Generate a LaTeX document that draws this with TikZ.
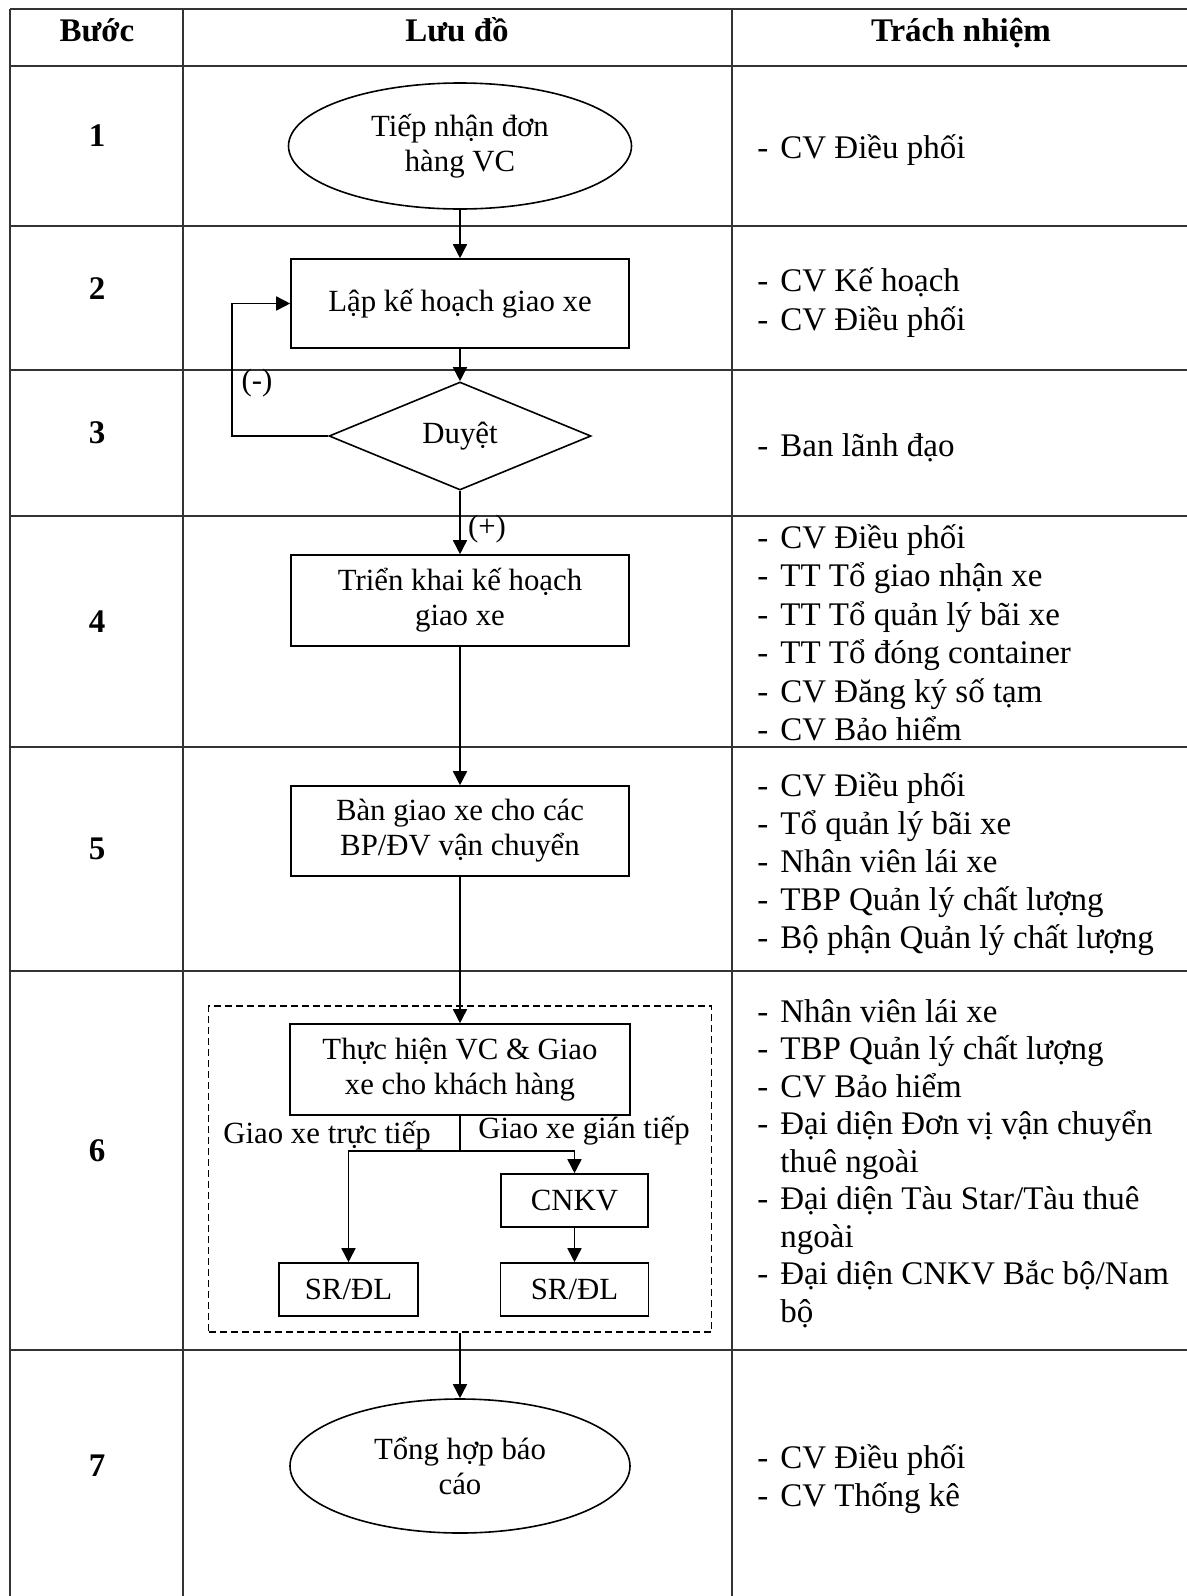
\documentclass[tikz,border=0pt]{standalone}
\usepackage{fontspec}
\setmainfont{Liberation Serif}
\usetikzlibrary{shapes.geometric,arrows.meta}
% a bullet line in the responsibility column
\newcommand\dline[1]{\makebox[11.5pt][l]{-}#1}
\begin{document}
\begin{tikzpicture}[x=0.5pt,y=-0.5pt,
  grid/.style={line width=1.1pt,black!80},
  flow/.style={draw,line width=0.8pt,align=center,inner sep=0pt,
    font=\fontsize{15.4}{17.5}\selectfont},
  proc/.style={flow,rectangle},
  term/.style={flow,ellipse},
  decide/.style={flow,diamond},
  arr/.style={line width=0.8pt,-{Triangle[length=7pt,width=7pt]}},
  link/.style={line width=0.8pt},
  lbl/.style={inner sep=0pt,font=\fontsize{15.4}{17.5}\selectfont},
  head/.style={anchor=base,inner sep=0pt,font=\fontsize{16.5}{19}\selectfont\bfseries},
  stepno/.style={anchor=base,inner sep=0pt,font=\fontsize{16.5}{19}\selectfont\bfseries},
  duty/.style={anchor=base west,inner sep=0pt,font=\fontsize{16.5}{19}\selectfont},
]
\useasboundingbox (0,0) rectangle (1187,1596);
\fill[white] (0,0) rectangle (1187,1596);

% table rules
\foreach \y in {9,66,226,370,516,747,971,1350}
  \draw[grid] (10,\y) -- (1187,\y);
\foreach \x in {10,183,732}
  \draw[grid] (\x,9) -- (\x,1596);

% header
\node[head] (hb) at (97,41) {Bước};
\node[head] (hl) at (457,41) {Lưu đồ};
\node[head] (ht) at (961,41) {Trách nhiệm};

% step numbers
\node[stepno] (s1) at (97,146) {1};
\node[stepno] (s2) at (97,299) {2};
\node[stepno] (s3) at (97,443) {3};
\node[stepno] (s4) at (97,632) {4};
\node[stepno] (s5) at (97,859) {5};
\node[stepno] (s6) at (97,1161) {6};
\node[stepno] (s7) at (97,1476) {7};

% flowchart
\node[term,minimum width=171.5pt,minimum height=63pt] (n1) at (460,146) {Tiếp nhận đơn\\hàng VC};
\node[proc,minimum width=169pt,minimum height=44.5pt] (n2) at (460,303.5) {Lập kế hoạch giao xe};
\node[decide,minimum width=131pt,minimum height=54pt] (n3) at (460,436) {Duyệt};
\node[proc,minimum width=169pt,minimum height=45.5pt] (n4) at (460,600.5) {Triển khai kế hoạch\\giao xe};
\node[proc,minimum width=169pt,minimum height=45pt] (n5) at (460,831) {Bàn giao xe cho các\\BP/ĐV vận chuyển};
\node[draw,dashed,dash pattern=on 3.5pt off 2pt,line width=0.8pt,inner sep=0pt,
  minimum width=251.5pt,minimum height=163pt] (grp) at (460,1169) {};
\node[proc,minimum width=170pt,minimum height=45.5pt] (n6) at (460,1069.5) {Thực hiện VC \& Giao\\xe cho khách hàng};
\node[proc,minimum width=73.5pt,minimum height=26.5pt] (cnkv) at (574.5,1200.5) {CNKV};
\node[proc,minimum width=69.5pt,minimum height=26.5pt] (srl) at (348.5,1289.5) {SR/ĐL};
\node[proc,minimum width=74pt,minimum height=26.5pt] (srr) at (574.5,1289.5) {SR/ĐL};
\node[term,minimum width=170pt,minimum height=67pt] (n7) at (460,1466) {Tổng hợp báo\\cáo};

\coordinate (loop) at (232,303.5);
\coordinate (split) at (460,1151);

\draw[arr] (n1.south) -- (n2.north);
\draw[arr] (n2.south) -- (n3.north);
\draw[arr] (n3.west) -| (loop) -- (n2.west);
\draw[arr] (n3.south) -- (n4.north);
\draw[arr] (n4.south) -- (n5.north);
\draw[arr] (n5.south) -- (n6.north);
\draw[link] (n6.south) -- (split);
\draw[arr] (split) -| (srl.north);
\draw[arr] (split) -| (cnkv.north);
\draw[arr] (cnkv.south) -- (srr.north);
\draw[arr] (grp.south) -- (n7.north);

\node[lbl] (neg) at (257,383) {(-)};
\node[lbl] (pos) at (487,529) {(+)};
\node[lbl,anchor=base west] (direct) at (223,1143) {Giao xe trực tiếp};
\node[lbl,anchor=base west] (indirect) at (478,1138) {Giao xe gián tiếp};

% responsibilities
\node[duty] (r1a) at (757,158) {\dline{CV Điều phối}};

\node[duty] (r2a) at (757,291) {\dline{CV Kế hoạch}};
\node[duty] (r2b) at (757,330) {\dline{CV Điều phối}};

\node[duty] (r3a) at (757,456) {\dline{Ban lãnh đạo}};

\node[duty] (r4a) at (757,548) {\dline{CV Điều phối}};
\node[duty] (r4b) at (757,586.5) {\dline{TT Tổ giao nhận xe}};
\node[duty] (r4c) at (757,625) {\dline{TT Tổ quản lý bãi xe}};
\node[duty] (r4d) at (757,663.5) {\dline{TT Tổ đóng container}};
\node[duty] (r4e) at (757,702) {\dline{CV Đăng ký số tạm}};
\node[duty] (r4f) at (757,740.5) {\dline{CV Bảo hiểm}};

\node[duty] (r5a) at (757,796) {\dline{CV Điều phối}};
\node[duty] (r5b) at (757,834) {\dline{Tổ quản lý bãi xe}};
\node[duty] (r5c) at (757,872) {\dline{Nhân viên lái xe}};
\node[duty] (r5d) at (757,910) {\dline{TBP Quản lý chất lượng}};
\node[duty] (r5e) at (757,948) {\dline{Bộ phận Quản lý chất lượng}};

\node[duty] (r6a) at (757,1022) {\dline{Nhân viên lái xe}};
\node[duty] (r6b) at (757,1059.5) {\dline{TBP Quản lý chất lượng}};
\node[duty] (r6c) at (757,1097) {\dline{CV Bảo hiểm}};
\node[duty] (r6d) at (757,1134.5) {\dline{Đại diện Đơn vị vận chuyển}};
\node[duty] (r6e) at (780,1172) {thuê ngoài};
\node[duty] (r6f) at (757,1209.5) {\dline{Đại diện Tàu Star/Tàu thuê}};
\node[duty] (r6g) at (780,1247) {ngoài};
\node[duty] (r6h) at (757,1284.5) {\dline{Đại diện CNKV Bắc bộ/Nam}};
\node[duty] (r6i) at (780,1322) {bộ};

\node[duty] (r7a) at (757,1468) {\dline{CV Điều phối}};
\node[duty] (r7b) at (757,1506) {\dline{CV Thống kê}};
\end{tikzpicture}
\end{document}
